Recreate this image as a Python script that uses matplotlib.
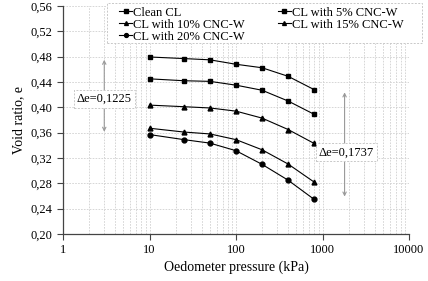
import matplotlib
matplotlib.use("Agg")
import matplotlib.pyplot as plt
from matplotlib.patches import Rectangle
from matplotlib.ticker import FuncFormatter, FixedLocator

plt.rcParams['font.family'] = ['Liberation Serif', 'DejaVu Serif']

# oedometer pressure steps (kPa)
pressure = [10, 25, 50, 100, 200, 400, 800]

e_clean = [0.4795, 0.477, 0.475, 0.468, 0.4625, 0.449, 0.428]
e_5 = [0.445, 0.442, 0.441, 0.435, 0.427, 0.410, 0.389]
e_10 = [0.4035, 0.401, 0.399, 0.394, 0.383, 0.365, 0.343]
e_15 = [0.367, 0.361, 0.358, 0.349, 0.333, 0.3105, 0.282]
e_20 = [0.357, 0.349, 0.3435, 0.3315, 0.310, 0.285, 0.2547]

labels = ['Clean CL', 'CL with 5% CNC-W', 'CL with 10% CNC-W',
          'CL with 15% CNC-W', 'CL with 20% CNC-W']
markers = ['s', 's', '^', '^', 'o']

W, H = 428, 281
fig = plt.figure(figsize=(W / 100, H / 100), dpi=100)
ax = fig.add_axes([63 / W, 1 - 234 / H, 346 / W, 228 / H])

lines = []
for y, lab, m in zip([e_clean, e_5, e_10, e_15, e_20], labels, markers):
    l, = ax.plot(pressure, y, color='black', lw=0.8, marker=m, ms=3.5, label=lab)
    lines.append(l)

ax.set_xscale('log')
ax.set_xlim(1, 10000)
ax.set_ylim(0.20, 0.56)
ax.yaxis.set_major_locator(FixedLocator([0.20 + 0.04 * i for i in range(10)]))
ax.yaxis.set_major_formatter(FuncFormatter(lambda v, p: f"{v:.2f}".replace('.', ',')))
ax.xaxis.set_major_formatter(FuncFormatter(lambda v, p: f"{v:.0f}"))
ax.tick_params(axis='x', which='minor', length=0)
ax.tick_params(labelsize=9, length=4, width=0.8, color='#444444')

ax.grid(True, which='both', color='#d0d0d0', lw=0.6, ls=(0, (2, 1.5)))
ax.set_axisbelow(True)
for s in ['top', 'right']:
    ax.spines[s].set_visible(False)
for s in ['left', 'bottom']:
    ax.spines[s].set_color('#444444')
    ax.spines[s].set_linewidth(0.9)

ax.set_xlabel('Oedometer pressure (kPa)', fontsize=10, labelpad=3)
ax.set_ylabel('Void ratio, e', fontsize=10, labelpad=4)

# delta-e arrows
arr = dict(arrowstyle='<->', color='#999999', lw=0.8, mutation_scale=6)
ax.annotate('', xy=(3, e_clean[0]), xytext=(3, e_20[0]), arrowprops=arr)
ax.annotate('', xy=(1800, e_clean[-1]), xytext=(1800, e_20[-1]), arrowprops=arr)
box = dict(boxstyle='square,pad=0.25', fc='white', ec='#c8c8c8', lw=0.7, ls=(0, (2, 1.5)))
ax.text(3, 0.413, 'Δe=0,1225', fontsize=9, ha='center', va='center', bbox=box)
ax.text(1900, 0.329, 'Δe=0,1737', fontsize=9, ha='center', va='center', bbox=box)

# legend frame drawn separately (wider than the entries)
frame = Rectangle((107 / W, 1 - 43 / H), 315 / W, 40 / H, transform=fig.transFigure,
                  fc='white', ec='#c8c8c8', lw=0.7, ls=(0, (2, 1.5)),
                  clip_on=False, zorder=4)
ax.add_patch(frame)

order = [0, 2, 4, 1, 3]
leg = ax.legend([lines[i] for i in order], [labels[i] for i in order],
                ncol=2, loc='upper left', bbox_to_anchor=(119 / W, 1 - 6.5 / H),
                bbox_transform=fig.transFigure, fontsize=9, frameon=False,
                borderpad=0, labelspacing=0.0, markerscale=0.8,
                handlelength=1.05, handletextpad=0.1, columnspacing=2.6,
                borderaxespad=0)
leg.set_zorder(5)

fig.savefig('out.png', dpi=100)
